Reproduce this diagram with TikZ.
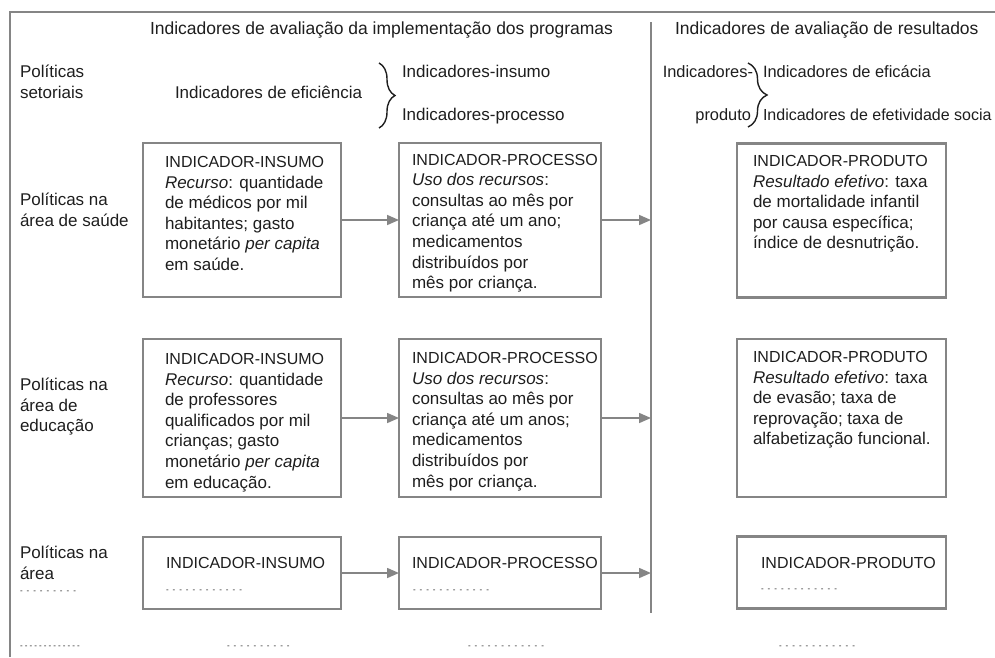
\documentclass[tikz,border=0pt]{standalone}
\usepackage{fontspec}
\setmainfont{Liberation Sans}
\usetikzlibrary{arrows.meta,decorations.pathreplacing}
\definecolor{linegray}{HTML}{858585}
\definecolor{txtcol}{HTML}{1E1E1E}
\newcommand{\capsz}{\fontsize{16}{20.6}\selectfont}
\newcommand{\ptxt}[2]{\parbox[t]{#1}{\raggedright #2}}
\newcommand{\dashrow}[2]{\foreach \i in {1,...,#1}{-\kern#2}}
\begin{document}
\begin{tikzpicture}[x=1pt,y=-1pt,
  every node/.style={inner sep=0pt, outer sep=0pt, text=txtcol, font=\fontsize{17}{20.6}\selectfont},
  lbl/.style={anchor=base west},
  lblr/.style={anchor=base east},
  hdr/.style={anchor=base west, font=\fontsize{17.5}{20.6}\selectfont},
  rgt/.style={font=\fontsize{16.4}{20.6}\selectfont},
  ibox/.style={draw=linegray, line width=2.8pt},
  dotl/.style={anchor=base west, font=\fontsize{8}{8}\selectfont},
  arr/.style={draw=linegray, line width=1.6pt, -{Triangle[length=12pt,width=10pt]}},
  brc/.style={draw=txtcol, line width=1.4pt, decorate, decoration={brace, amplitude=#1}},
  frame/.style={draw=linegray, line width=2.5pt}
]
\useasboundingbox (0,0) rectangle (995,657);

% frame and divider
\coordinate (fbl) at (10,657);
\coordinate (ftl) at (10,12);
\coordinate (ftr) at (995,12);
\draw[frame] (fbl) -- (ftl) -- (ftr);
\coordinate (divtop) at (651,22);
\coordinate (divbot) at (651,613);
\draw[draw=linegray, line width=2.8pt] (divtop) -- (divbot);

% headers
\node[hdr] (h1) at (150,34.5) {Indicadores de avaliação da implementação dos programas};
\node[hdr] (h2) at (675,34.5) {Indicadores de avaliação de resultados};

% top row
\node[lbl] (polset) at (20,77.5) {\ptxt{140pt}{Políticas\\setoriais}};
\node[lbl] (efic) at (175,98.5) {Indicadores de eficiência};
\draw[brc=16pt] (379,63) -- (379,128);
\node[lbl] (iins) at (402,77.5) {Indicadores-insumo};
\node[lbl] (iproc) at (402,120.5) {Indicadores-processo};
\node[lblr,rgt] (iprod1) at (753,77.5) {Indicadores-};
\node[lblr,rgt] (iprod2) at (751,120.5) {produto};
\draw[brc=19pt] (748,63) -- (748,127);
\node[lbl,rgt] (ieficacia) at (763,77.5) {Indicadores de eficácia};
\node[lbl,font=\fontsize{16}{20.6}\selectfont] (iefet) at (763,120.5) {Indicadores de efetividade socia};

% row labels
\node[lbl] (pol1) at (20,205.5) {\ptxt{120pt}{Políticas na\\área de saúde}};
\node[lbl] (pol2) at (20,390.5) {\ptxt{120pt}{Políticas na\\área de\\educação}};
\node[lbl] (pol3) at (20,558.5) {\ptxt{120pt}{Políticas na\\área}};
\node[dotl] (pol3d) at (20,593) {\dashrow{9}{4pt}};

% row 1 boxes
\node[ibox, minimum width=198pt, minimum height=154pt] (ins1) at (242,220) {};
\node[ibox, minimum width=202pt, minimum height=154pt] (proc1) at (500,220) {};
\node[ibox, minimum width=209pt, minimum height=154pt] (prod1) at (841.5,220.5) {};
\node[lbl] (tins1) at (165,167.5) {\ptxt{175pt}{{\capsz INDICADOR-INSUMO}\\\textit{Recurso}: quantidade\\de médicos por mil\\habitantes; gasto\\monetário \textit{per capita}\\em saúde.}};
\node[lbl] (tproc1) at (412,165) {\ptxt{195pt}{{\capsz INDICADOR-PROCESSO}\\\textit{Uso dos recursos}:\\consultas ao mês por\\criança até um ano;\\medicamentos\\distribuídos por\\mês por criança.}};
\node[lbl] (tprod1) at (753,166.5) {\ptxt{190pt}{{\capsz INDICADOR-PRODUTO}\\\textit{Resultado efetivo}: taxa\\de mortalidade infantil\\por causa específica;\\índice de desnutrição.}};
\draw[arr] (ins1.east) -- (proc1.west);
\draw[arr] (proc1.east) -- (proc1.east -| divtop);

% row 2 boxes
\node[ibox, minimum width=198pt, minimum height=158pt] (ins2) at (242,418) {};
\node[ibox, minimum width=202pt, minimum height=158pt] (proc2) at (500,418) {};
\node[ibox, minimum width=209pt, minimum height=158pt] (prod2) at (841.5,418) {};
\node[lbl] (tins2) at (165,364.5) {\ptxt{175pt}{{\capsz INDICADOR-INSUMO}\\\textit{Recurso}: quantidade\\de professores\\qualificados por mil\\crianças; gasto\\monetário \textit{per capita}\\em educação.}};
\node[lbl] (tproc2) at (412,363.5) {\ptxt{195pt}{{\capsz INDICADOR-PROCESSO}\\\textit{Uso dos recursos}:\\consultas ao mês por\\criança até um anos;\\medicamentos\\distribuídos por\\mês por criança.}};
\node[lbl] (tprod2) at (753,362.5) {\ptxt{190pt}{{\capsz INDICADOR-PRODUTO}\\\textit{Resultado efetivo}: taxa\\de evasão; taxa de\\reprovação; taxa de\\alfabetização funcional.}};
\draw[arr] (ins2.east) -- (proc2.west);
\draw[arr] (proc2.east) -- (proc2.east -| divtop);

% row 3 boxes
\node[ibox, minimum width=198pt, minimum height=72pt] (ins3) at (242,573) {};
\node[ibox, minimum width=202pt, minimum height=72pt] (proc3) at (500,573) {};
\node[ibox, minimum width=209pt, minimum height=72pt] (prod3) at (841.5,572.5) {};
\node[lbl] (tins3) at (166,568.5) {{\capsz INDICADOR-INSUMO}};
\node[dotl] (tins3d) at (166,592) {\dashrow{12}{4pt}};
\node[lbl] (tproc3) at (412,568.5) {{\capsz INDICADOR-PROCESSO}};
\node[dotl] (tproc3d) at (413,592) {\dashrow{12}{4pt}};
\node[lbl] (tprod3) at (761,568.5) {{\capsz INDICADOR-PRODUTO}};
\node[dotl] (tprod3d) at (761,591) {\dashrow{12}{4pt}};
\draw[arr] (ins3.east) -- (proc3.west);
\draw[arr] (proc3.east) -- (proc3.east -| divtop);

% bottom dotted row
\node[dotl] (b1) at (20,648) {\dashrow{13}{2.1pt}};
\node[dotl] (b2) at (227,648) {\dashrow{10}{4pt}};
\node[dotl] (b3) at (468,648) {\dashrow{12}{4pt}};
\node[dotl] (b4) at (779,648) {\dashrow{12}{4pt}};
\end{tikzpicture}
\end{document}
